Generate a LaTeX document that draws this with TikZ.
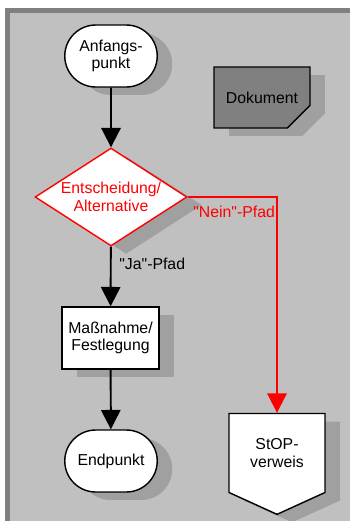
\documentclass[tikz,border=0pt]{standalone}
\usepackage{fontspec}
\setmainfont{Liberation Sans}
\usetikzlibrary{arrows.meta,shapes.geometric,shapes.misc,shapes.symbols,shadows}
\definecolor{panelgray}{HTML}{C0C0C0}
\definecolor{framegray}{HTML}{808080}
\definecolor{shadowgray}{HTML}{A0A0A0}
\definecolor{pfadrot}{HTML}{FF0000}
\tikzset{
  schatten/.style={drop shadow={shadow xshift=0.3cm,shadow yshift=-0.16cm,fill=shadowgray,opacity=1}},
  terminal/.style={rounded rectangle,draw,fill=white,line width=0.8pt,minimum width=1.92cm,minimum height=1.24cm,inner sep=1pt,align=center,schatten},
  massnahme/.style={rectangle,draw,fill=white,line width=0.8pt,minimum width=1.94cm,minimum height=1.24cm,inner sep=1pt,align=center,schatten},
  entscheidung/.style={diamond,draw=pfadrot,text=pfadrot,fill=white,line width=0.8pt,aspect=1.55,minimum width=3.04cm,minimum height=1.96cm,inner sep=0pt,align=center,schatten},
  dokument/.style={chamfered rectangle,chamfered rectangle corners=south east,chamfered rectangle xsep=0.44cm,chamfered rectangle ysep=0.3cm,draw,fill=framegray,line width=0.8pt,minimum width=1.92cm,minimum height=1.22cm,inner sep=1pt,schatten},
  verweis/.style={signal,signal to=south,signal from=nowhere,signal pointer angle=131,draw,fill=white,line width=0.8pt,minimum width=1.92cm,minimum height=1.84cm,inner sep=1pt,align=center,schatten},
  pfeil/.style={line width=1.1pt,-{Triangle[width=11pt,length=11pt]}},
  rotpfeil/.style={pfeil,draw=pfadrot},
  pfadtext/.style={anchor=west,inner sep=0pt}
}
\newcommand{\gz}{\textquotedbl}
\begin{document}
\begin{tikzpicture}[x=0.02cm,y=-0.02cm,font=\fontsize{9}{10}\selectfont]
  \useasboundingbox (0,0) rectangle (350,521);
  % Rahmen
  \fill[framegray] (5,8) rectangle (350,521);
  \fill[panelgray] (10,13) rectangle (350,521);
  % Symbole
  \node[terminal] (start) at (111,56) {Anfangs-\\punkt};
  \node[dokument] (doku) at (262,97.5) {Dokument};
  \node[entscheidung] (ent) at (111,197) {Entscheidung/\\Alternative};
  \node[massnahme] (mass) at (110.5,338) {Maßnahme/\\Festlegung};
  \node[terminal] (ende) at (111,461) {Endpunkt};
  \node[verweis] (stop) at (277,453) {StOP-\\verweis};
  \coordinate (knick) at (277,197);
  % Pfade
  \draw[pfeil] (start)--(ent);
  \draw[pfeil] (ent)--(mass);
  \draw[pfeil] (mass)--(ende);
  \draw[rotpfeil] (ent.east)--(knick)--(stop.north);
  \node[pfadtext] (ja) at (119,264) {\gz Ja\gz-Pfad};
  \node[pfadtext,text=pfadrot] (nein) at (193,212) {\gz Nein\gz-Pfad};
\end{tikzpicture}
\end{document}
